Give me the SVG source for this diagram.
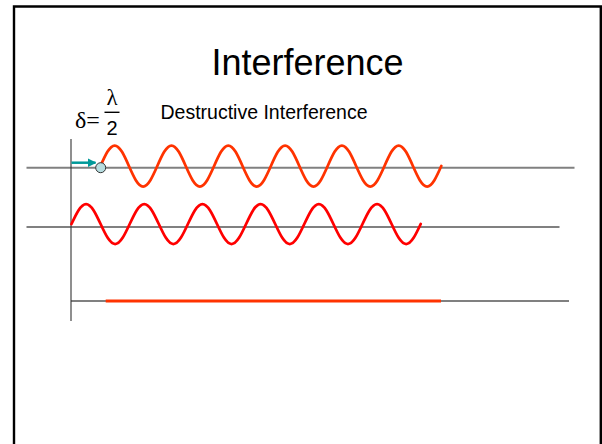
<svg xmlns="http://www.w3.org/2000/svg" width="602" height="444" viewBox="0 0 602 444">
<style>
.axis{stroke:#808080;stroke-width:2;fill:none}
.wave{fill:none;stroke-width:2.75;stroke-linecap:round;stroke-linejoin:round}
.sans{font-family:"Liberation Sans",Arial,sans-serif;fill:#000}
.serif{font-family:"Liberation Serif","Times New Roman",serif;fill:#000}
</style>
<defs>
<marker id="ah" viewBox="0 0 10 10" refX="9" refY="5" markerWidth="3.4" markerHeight="3.4" orient="auto" markerUnits="strokeWidth">
<path d="M0,0 L10,5 L0,10 z" fill="#009999"/>
</marker>
</defs>
<rect width="602" height="444" fill="#fff"/>
<path d="M14,446 V6.5 H600.8 V446" fill="none" stroke="#000" stroke-width="2.4"/>
<g id="title"><text class="sans" x="307.5" y="75" font-size="36" text-anchor="middle">Interference</text></g>
<g id="delta-label">
<text class="serif" x="75" y="127.5" font-size="24">δ=</text>
<text class="serif" x="112" y="105" font-size="23" text-anchor="middle">λ</text>
<line x1="104.5" y1="112.3" x2="119.5" y2="112.3" stroke="#000" stroke-width="1.4"/>
<text class="sans" x="112" y="134.5" font-size="20" text-anchor="middle">2</text>
</g>
<g id="subtitle"><text class="sans" x="160.5" y="119" font-size="19.5">Destructive Interference</text></g>
<g id="connectors">
<line class="axis" x1="26.5" y1="167.7" x2="574.5" y2="167.7"/>
<line class="axis" x1="26.5" y1="227" x2="559.5" y2="227"/>
<line class="axis" x1="71" y1="301" x2="569" y2="301"/>
<line x1="71" y1="139" x2="71" y2="321" stroke="#333" stroke-width="1.1"/>
<line x1="71.5" y1="162.7" x2="95.5" y2="162.7" stroke="#009999" stroke-width="2.5" marker-end="url(#ah)"/>
</g>
<g id="wave1">
<path class="wave" stroke="#FF3300" d="M100.5,166 c4.631,-10.502 9.067,-20.5 14.2,-20.5 s9.569,9.998 14.2,20.5 s9.067,20.5 14.2,20.5 s9.569,-9.998 14.2,-20.5
s9.067,-20.5 14.2,-20.5 s9.569,9.998 14.2,20.5 s9.067,20.5 14.2,20.5 s9.569,-9.998 14.2,-20.5
s9.067,-20.5 14.2,-20.5 s9.569,9.998 14.2,20.5 s9.067,20.5 14.2,20.5 s9.569,-9.998 14.2,-20.5
s9.067,-20.5 14.2,-20.5 s9.569,9.998 14.2,20.5 s9.067,20.5 14.2,20.5 s9.569,-9.998 14.2,-20.5
s9.067,-20.5 14.2,-20.5 s9.569,9.998 14.2,20.5 s9.067,20.5 14.2,20.5 s9.569,-9.998 14.2,-20.5
s9.067,-20.5 14.2,-20.5 s9.569,9.998 14.2,20.5 s9.067,20.5 14.2,20.5 s9.569,-9.998 14.2,-20.5"/>
</g>
<g id="wave2">
<path class="wave" stroke="#FF0000" d="M71.5,224 c4.745,-10.246 9.290,-20 14.55,-20 s9.805,9.754 14.55,20 s9.290,20 14.55,20 s9.805,-9.754 14.55,-20
s9.290,-20 14.55,-20 s9.805,9.754 14.55,20 s9.290,20 14.55,20 s9.805,-9.754 14.55,-20
s9.290,-20 14.55,-20 s9.805,9.754 14.55,20 s9.290,20 14.55,20 s9.805,-9.754 14.55,-20
s9.290,-20 14.55,-20 s9.805,9.754 14.55,20 s9.290,20 14.55,20 s9.805,-9.754 14.55,-20
s9.290,-20 14.55,-20 s9.805,9.754 14.55,20 s9.290,20 14.55,20 s9.805,-9.754 14.55,-20
s9.290,-20 14.55,-20 s9.805,9.754 14.55,20 s9.290,20 14.55,20 s9.805,-9.754 14.55,-20"/>
</g>
<g id="sum">
<line x1="105.7" y1="301" x2="441" y2="301" stroke="#FF3300" stroke-width="3"/>
</g>
<g id="point">
<circle cx="100.7" cy="167.7" r="5" fill="#B7DDE0" stroke="#333" stroke-width="1"/>
</g>
</svg>
